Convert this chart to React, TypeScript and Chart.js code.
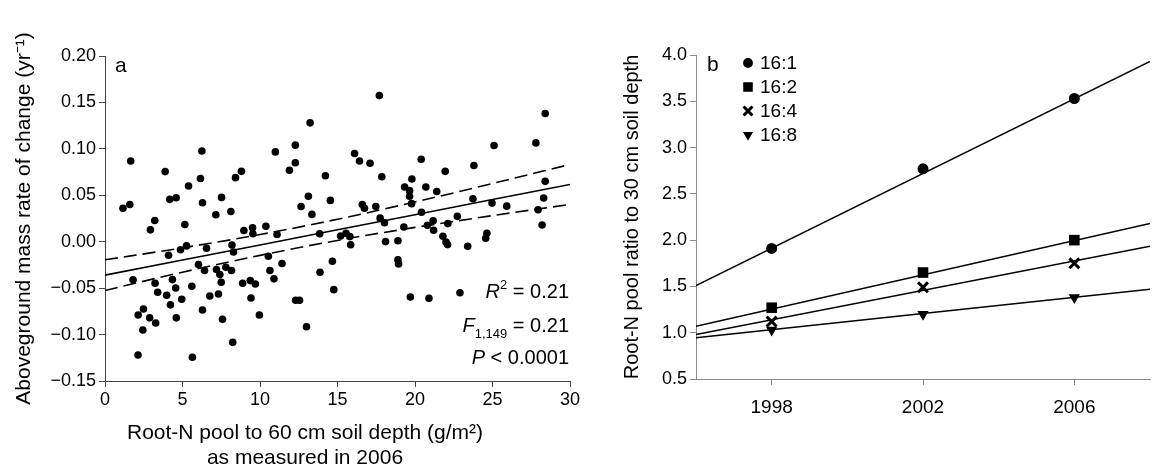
import React, { useEffect, useRef } from "react";
import { Chart, registerables } from "chart.js";
import { drawPoint } from "chart.js/helpers";

Chart.register(...registerables);

const FONT = "'Liberation Sans', Arial, Helvetica, sans-serif";

// ---------- Panel a data ----------
const rootN: number[] = [
  1.66, 3.88, 6.25, 5.39, 6.16, 8.42, 8.8, 10.99, 11.9, 12.28, 12.28, 13.23, 17.7, 14.22, 16.1,
  16.42, 17.1, 17.86, 20.4, 19.8, 19.33, 20.7, 21.95, 23.8, 25.1, 27.8, 21.4, 19.65, 19.65,
  1.16, 1.6, 4.18, 4.59, 6.29, 7.52, 7.15, 8.12, 3.21, 2.93, 5.15, 8.96, 9.52, 9.54, 10.38, 11.1,
  12.65, 13.12, 13.35, 13.85, 4.87, 5.26, 4.1, 6.55, 8.19, 8.29, 10.54, 1.81, 6.03, 6.42, 7.19,
  7.8, 8.16, 7.41, 7.5, 10.64, 10.9, 11.42, 3.23, 4.35, 4.56, 5.6, 8.88, 9.37, 9.7, 3.4, 3.98,
  4.22, 4.95, 6.76, 7.32, 9.42, 12.3, 12.55, 2.48, 2.14, 2.88, 3.27, 2.44, 4.6, 6.29, 7.58, 9.96,
  13.0, 2.13, 5.64, 8.24,
  14.54, 16.6, 16.74, 17.47, 19.78, 23.74, 24.97, 25.92, 27.94, 17.75, 18.03, 20.42, 22.73, 21.17,
  22.12, 20.8, 21.2, 19.28, 15.2, 15.55, 15.8, 15.85, 18.1, 18.9, 21.8, 22.0, 22.1, 23.4, 24.64,
  24.56, 18.9, 18.94, 14.67, 13.87, 14.76, 19.7, 20.9, 22.9,
  28.4, 28.4, 28.3, 28.2,
];
const massRate: number[] = [
  0.087, 0.0755, 0.0977, 0.06, 0.068, 0.069, 0.0758, 0.0967, 0.077, 0.104, 0.085, 0.128, 0.1575, 0.071, 0.095,
  0.087, 0.0845, 0.07, 0.0888, 0.0675, 0.059, 0.059, 0.0758, 0.082, 0.1036, 0.1064, 0.054, 0.055, 0.049,
  0.036, 0.04, 0.0456, 0.0474, 0.042, 0.0477, 0.029, 0.0326, 0.0229, 0.0128, 0.0186, 0.012, 0.015, 0.0085, 0.0166, 0.0077,
  0.038, 0.049, 0.0294, 0.0085, -0.0087, -0.0045, -0.0146, -0.007, -0.0035, -0.011, -0.0157, -0.041, -0.0246, -0.031, -0.03,
  -0.0275, -0.031, -0.0354, -0.0437, -0.031, -0.04, -0.0234, -0.0448, -0.0408, -0.0498, -0.048, -0.0448, -0.0419, -0.0455, -0.0545, -0.0577,
  -0.068, -0.062, -0.0584, -0.0563, -0.0606, -0.063, -0.063, -0.0725, -0.079, -0.082, -0.0875, -0.095, -0.082, -0.0735, -0.0836, -0.079,
  -0.0916, -0.122, -0.1245, -0.1084,
  0.0445, 0.04, 0.036, 0.038, 0.041, 0.0463, 0.0416, 0.0383, 0.0345, 0.0254, 0.0205, 0.0317, 0.0273, 0.0225,
  0.0195, 0.0178, 0.0123, 0.0158, 0.0062, 0.009, 0.0055, -0.0032, 0.0001, 0.001, 0.0059, -0.0003, -0.0031, -0.005, 0.009,
  0.0038, -0.0196, -0.024, -0.021, -0.033, -0.0516, -0.0595, -0.061, -0.055,
  0.138, 0.065, 0.047, 0.018,
];
const fitX: number[] = [0, 5, 10, 15, 20, 25, 30];
const fitMid: number[] = [-0.036, -0.0197, -0.0035, 0.0128, 0.0291, 0.0454, 0.0617];
const fitUpper: number[] = [-0.0195, -0.0066, 0.0077, 0.0242, 0.0428, 0.0627, 0.0832];
const fitLower: number[] = [-0.0525, -0.0328, -0.0147, 0.0014, 0.0154, 0.0281, 0.0402];

const aXTitle1 = "Root-N pool to 60 cm soil depth (g/m\u00B2)";
const aXTitle2 = "as measured in 2006";
const aYTitle = "Aboveground mass rate of change (yr\u207B\u00B9)";

// ---------- Panel b data ----------
const years: number[] = [1998, 2002, 2006];
const seriesLabels: string[] = ["16:1", "16:2", "16:4", "16:8"];
const ratio16_1: number[] = [1.91, 2.77, 3.53];
const ratio16_2: number[] = [1.27, 1.65, 2.0];
const ratio16_4: number[] = [1.12, 1.49, 1.75];
const ratio16_8: number[] = [1.03, 1.2, 1.38];
const fitYears: number[] = [1996, 2008];
const fit16_1: number[] = [1.51, 3.93];
const fit16_2: number[] = [1.07, 2.18];
const fit16_4: number[] = [0.98, 1.935];
const fit16_8: number[] = [0.945, 1.47];
const bYTitle = "Root-N pool ratio to 30 cm soil depth";

const fmt = (v: number, d: number) => {
  if (Math.abs(v) < 1e-9) v = 0;
  const s = Number(v).toFixed(d);
  return s.replace("-", "\u2212");
};

const zip = (xs: number[], ys: number[]) => xs.map((x, i) => ({ x, y: ys[i] }));

function drawRuns(ctx: CanvasRenderingContext2D, runs: { t: string; f: string; dy?: number }[], right: number, y: number) {
  let total = 0;
  const ws = runs.map((r) => {
    ctx.font = r.f;
    const w = ctx.measureText(r.t).width;
    total += w;
    return w;
  });
  let x = right - total;
  runs.forEach((r, i) => {
    ctx.font = r.f;
    ctx.fillText(r.t, x, y + (r.dy || 0));
    x += ws[i];
  });
}

const panelAPlugin = {
  id: "panelAText",
  afterDraw(chart: any) {
    const { ctx, chartArea } = chart;
    ctx.save();
    ctx.fillStyle = "#000";
    ctx.textBaseline = "middle";
    ctx.textAlign = "left";
    ctx.font = `21px ${FONT}`;
    ctx.fillText("a", chartArea.left + 10, chartArea.top + 10);
    ctx.font = `21px ${FONT}`;
    ctx.textAlign = "center";
    ctx.fillText(aXTitle1, 305, 433);
    ctx.fillText(aXTitle2, 305, 458);
    ctx.save();
    ctx.translate(24, (chartArea.top + chartArea.bottom) / 2);
    ctx.rotate(-Math.PI / 2);
    ctx.fillText(aYTitle, 0, 0);
    ctx.restore();
    ctx.textAlign = "left";
    const right = chartArea.right - 1;
    const big = `20px ${FONT}`;
    const it = `italic 20px ${FONT}`;
    const small = `13px ${FONT}`;
    drawRuns(ctx, [{ t: "R", f: it }, { t: "2", f: small, dy: -7 }, { t: " = 0.21", f: big }], right, chartArea.bottom - 89);
    drawRuns(ctx, [{ t: "F", f: it }, { t: "1,149", f: small, dy: 8 }, { t: " = 0.21", f: big }], right, chartArea.bottom - 55);
    drawRuns(ctx, [{ t: "P", f: it }, { t: " < 0.0001", f: big }], right, chartArea.bottom - 23);
    ctx.restore();
  },
};

const bStyles = [
  { pointStyle: "circle", radius: 5.5, rotation: 0, borderWidth: 0 },
  { pointStyle: "rect", radius: 7.5, rotation: 0, borderWidth: 0 },
  { pointStyle: "crossRot", radius: 7, rotation: 0, borderWidth: 3 },
  { pointStyle: "triangle", radius: 6.5, rotation: 180, borderWidth: 0 },
];

const panelBPlugin = {
  id: "panelBText",
  afterDraw(chart: any) {
    const { ctx, chartArea } = chart;
    ctx.save();
    ctx.fillStyle = "#000";
    ctx.strokeStyle = "#000";
    ctx.textBaseline = "middle";
    ctx.textAlign = "left";
    ctx.font = `21px ${FONT}`;
    ctx.fillText("b", chartArea.left + 11, chartArea.top + 10);
    ctx.font = `19px ${FONT}`;
    seriesLabels.forEach((lab, i) => {
      const y = chartArea.top + 8 + i * 24;
      const st = bStyles[i];
      ctx.lineWidth = st.borderWidth;
      drawPoint(ctx, { pointStyle: st.pointStyle as any, radius: st.radius * 0.9, rotation: st.rotation, borderWidth: st.borderWidth }, chartArea.left + 52, y);
      ctx.fillText(lab, chartArea.left + 64, y + 1);
    });
    ctx.font = `20px ${FONT}`;
    ctx.textAlign = "center";
    ctx.save();
    ctx.translate(52, (chartArea.top + chartArea.bottom) / 2);
    ctx.rotate(-Math.PI / 2);
    ctx.fillText(bYTitle, 0, 0);
    ctx.restore();
    ctx.restore();
  },
};

export default function App() {
  const refA = useRef<HTMLCanvasElement>(null);
  const refB = useRef<HTMLCanvasElement>(null);

  useEffect(() => {
    Chart.defaults.font.family = FONT;
    Chart.defaults.color = "#000";

    const dark = "#444";
    const chartA = new Chart(refA.current as HTMLCanvasElement, {
      type: "scatter",
      data: {
        datasets: [
          {
            data: zip(rootN, massRate),
            backgroundColor: "#000",
            borderColor: "#000",
            pointRadius: 3.8,
            borderWidth: 0,
          },
          {
            data: zip(fitX, fitMid),
            showLine: true,
            pointRadius: 0,
            borderColor: "#000",
            borderWidth: 1.6,
          },
          {
            data: zip(fitX, fitUpper),
            showLine: true,
            pointRadius: 0,
            borderColor: "#000",
            borderWidth: 1.6,
            borderDash: [13, 6],
            cubicInterpolationMode: "monotone",
          },
          {
            data: zip(fitX, fitLower),
            showLine: true,
            pointRadius: 0,
            borderColor: "#000",
            borderWidth: 1.6,
            borderDash: [13, 6],
            cubicInterpolationMode: "monotone",
          },
        ],
      } as any,
      options: {
        responsive: false,
        animation: false,
        devicePixelRatio: 1,
        layout: { padding: { left: 0, top: 56, right: 30, bottom: 0 } },
        plugins: { legend: { display: false }, tooltip: { enabled: false } },
        scales: {
          x: {
            type: "linear",
            min: 0,
            max: 30,
            ticks: { stepSize: 5, color: "#000", font: { size: 18 }, padding: 2, maxRotation: 0 },
            grid: { display: true, drawOnChartArea: false, drawTicks: true, tickLength: 6, color: dark },
            border: { display: true, color: dark, width: 1 },
            afterFit: (s: any) => {
              s.height = 95;
            },
          },
          y: {
            type: "linear",
            min: -0.15,
            max: 0.2,
            ticks: { stepSize: 0.05, color: "#000", font: { size: 18 }, padding: 3, callback: (v: any) => fmt(Number(v), 2) },
            grid: { display: true, drawOnChartArea: false, drawTicks: true, tickLength: 6, color: dark },
            border: { display: true, color: dark, width: 1 },
            afterFit: (s: any) => {
              s.width = 105;
            },
          },
        },
      } as any,
      plugins: [panelAPlugin],
    });

    const gray = "#8a8a8a";
    const pointSets = [ratio16_1, ratio16_2, ratio16_4, ratio16_8];
    const fitSets = [fit16_1, fit16_2, fit16_4, fit16_8];
    const bDatasets: any[] = [];
    fitSets.forEach((f) => {
      bDatasets.push({
        data: zip(fitYears, f),
        showLine: true,
        pointRadius: 0,
        borderColor: "#000",
        borderWidth: 1.5,
      });
    });
    pointSets.forEach((p, i) => {
      const st = bStyles[i];
      bDatasets.push({
        label: seriesLabels[i],
        data: zip(years, p),
        showLine: false,
        pointStyle: st.pointStyle,
        pointRadius: st.radius,
        pointRotation: st.rotation,
        pointBorderWidth: st.borderWidth,
        backgroundColor: "#000",
        borderColor: "#000",
      });
    });

    const chartB = new Chart(refB.current as HTMLCanvasElement, {
      type: "scatter",
      data: { datasets: bDatasets },
      options: {
        responsive: false,
        animation: false,
        devicePixelRatio: 1,
        layout: { padding: { left: 0, top: 55, right: 0, bottom: 0 } },
        plugins: { legend: { display: false }, tooltip: { enabled: false } },
        scales: {
          x: {
            type: "linear",
            min: 1996,
            max: 2008,
            afterBuildTicks: (s: any) => {
              s.ticks = years.map((v) => ({ value: v }));
            },
            ticks: { color: "#000", font: { size: 19 }, padding: 11, maxRotation: 0, callback: (v: any) => String(v) },
            grid: { display: true, drawOnChartArea: false, drawTicks: true, tickLength: 6, color: gray },
            border: { display: true, color: gray, width: 1 },
            afterFit: (s: any) => {
              s.height = 97;
            },
          },
          y: {
            type: "linear",
            min: 0.5,
            max: 4.0,
            ticks: { stepSize: 0.5, color: "#000", font: { size: 18 }, padding: 3, callback: (v: any) => fmt(Number(v), 1) },
            grid: { display: true, drawOnChartArea: false, drawTicks: true, tickLength: 6, color: gray },
            border: { display: true, color: gray, width: 1 },
            afterFit: (s: any) => {
              s.width = 116;
            },
          },
        },
      } as any,
      plugins: [panelBPlugin],
    });

    return () => {
      chartA.destroy();
      chartB.destroy();
    };
  }, []);

  return (
    <div style={{ position: "absolute", left: 0, top: 0, width: 1160, height: 476, background: "#fff", overflow: "hidden" }}>
      <canvas ref={refA} width={600} height={476} style={{ position: "absolute", left: 0, top: 0 }} />
      <canvas ref={refB} width={580} height={476} style={{ position: "absolute", left: 580, top: 0 }} />
    </div>
  );
}
